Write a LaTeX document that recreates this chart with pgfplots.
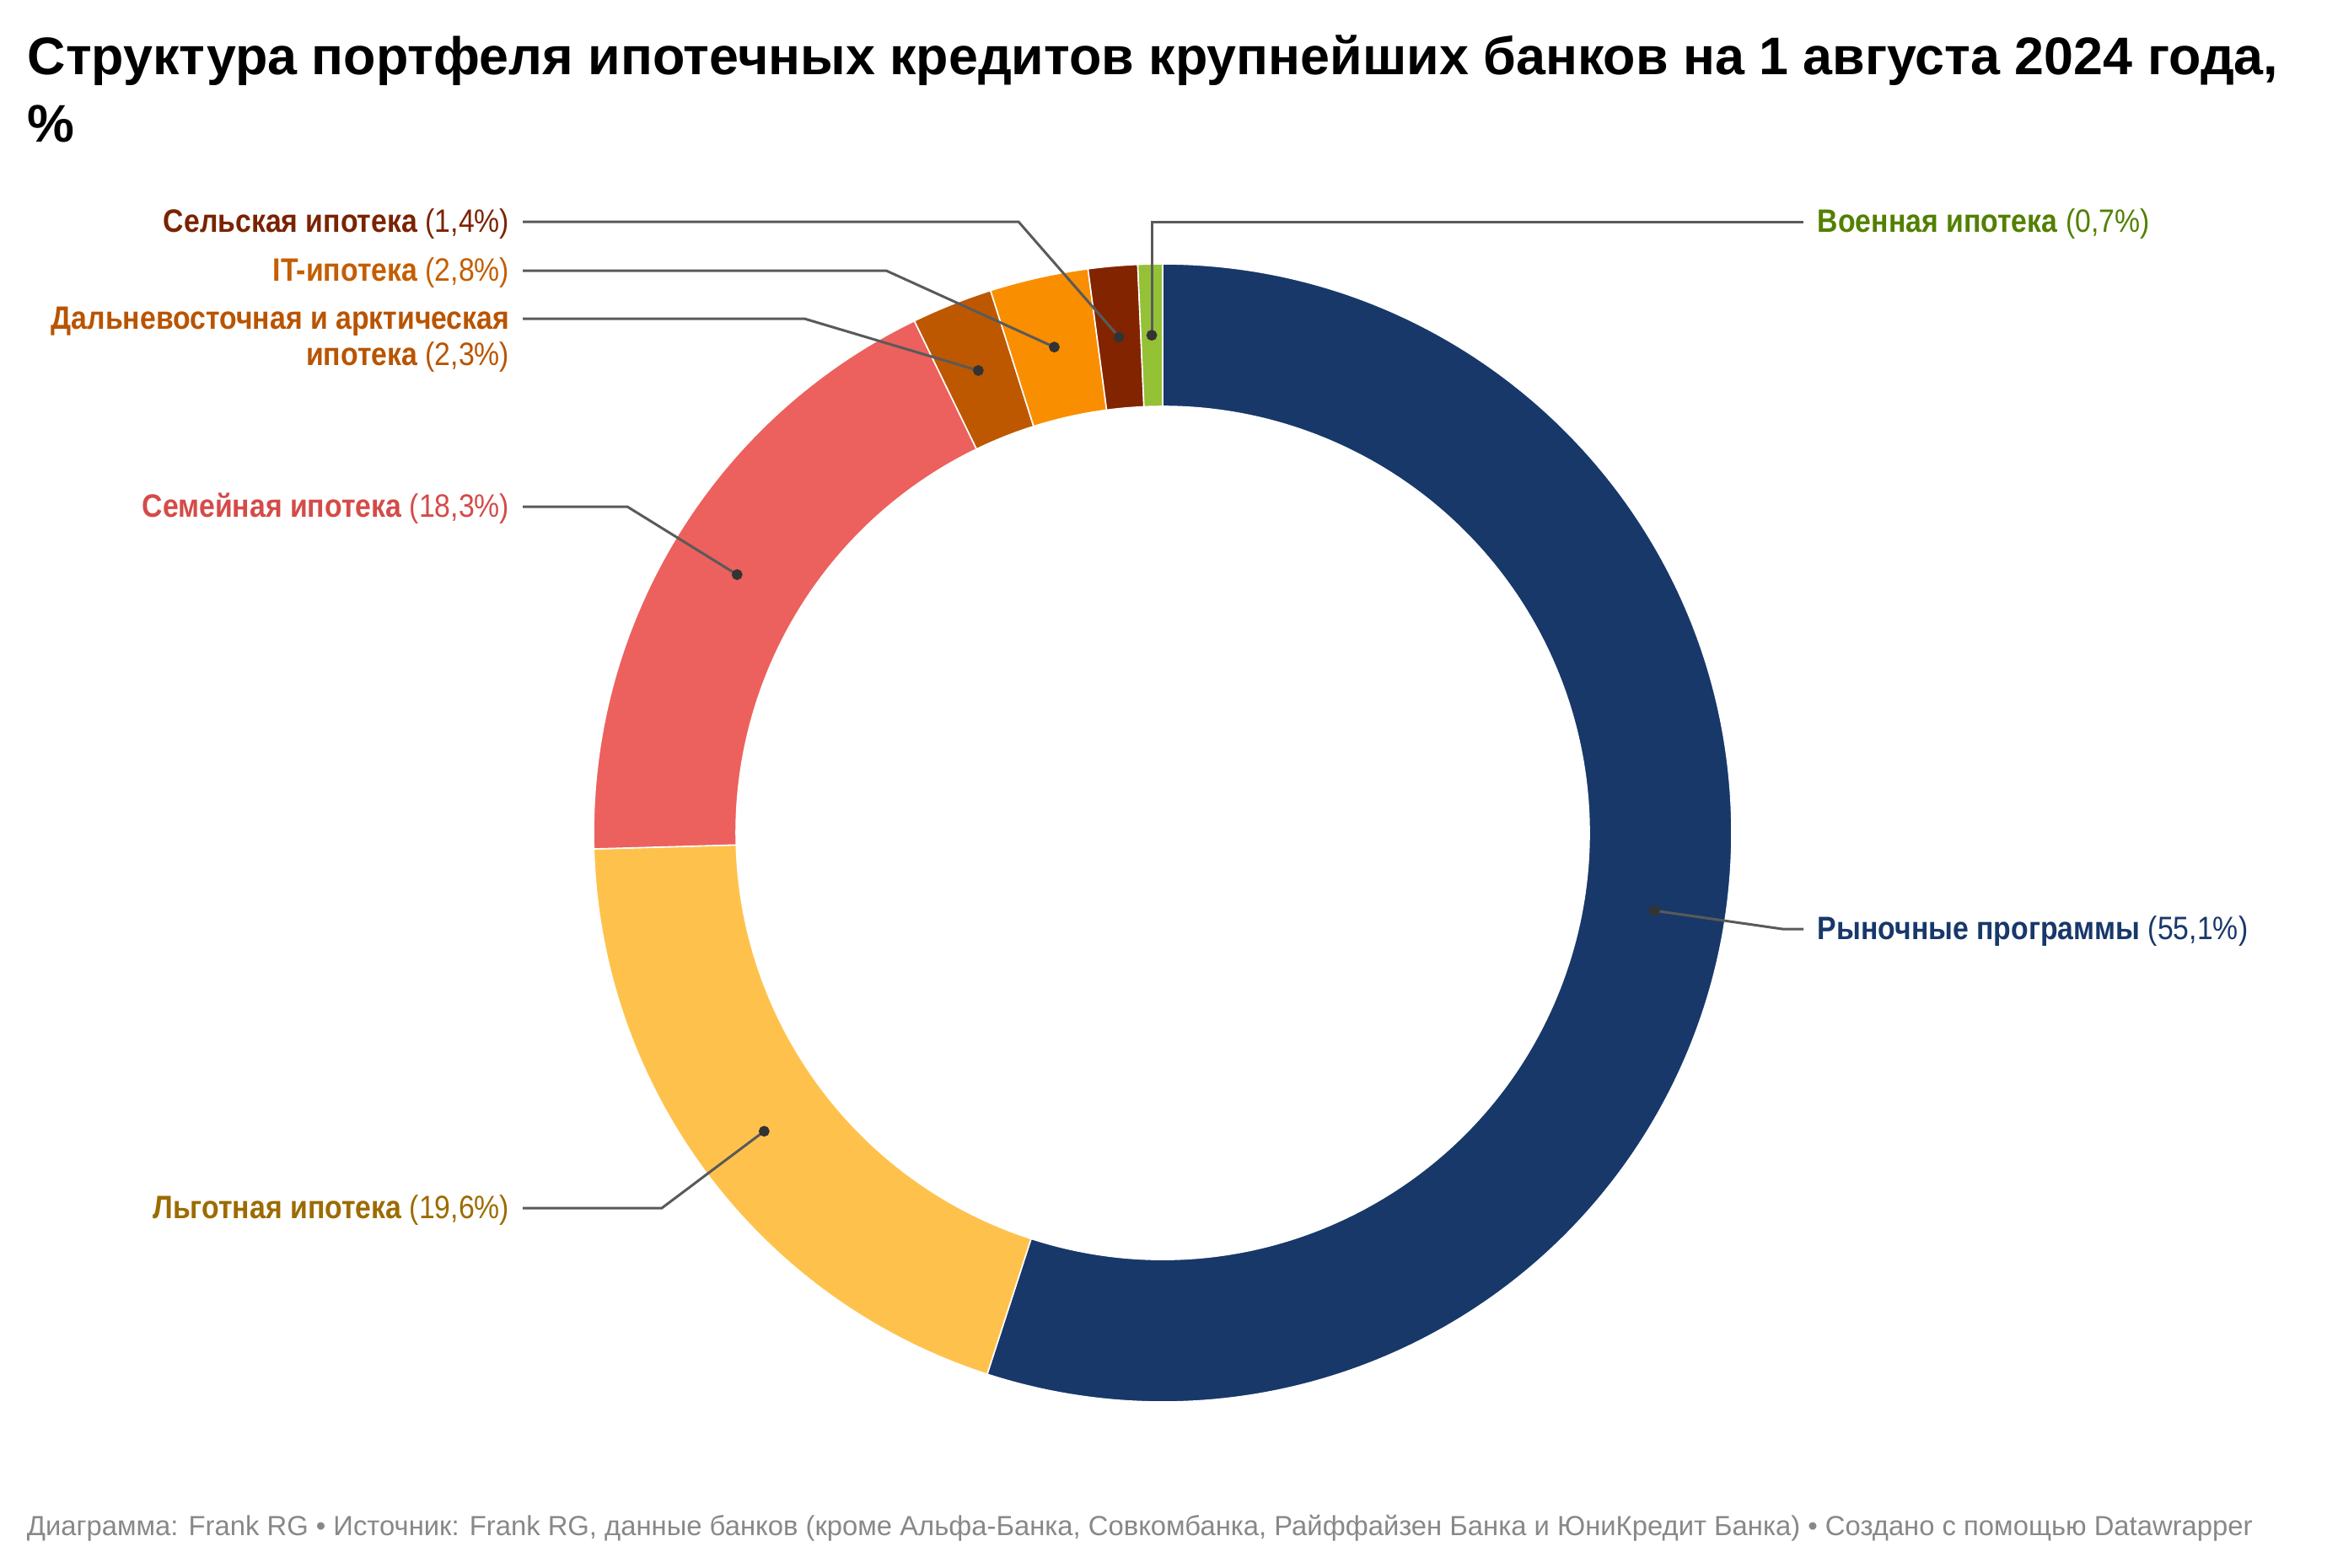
\documentclass[border=0pt]{standalone}
\usepackage{pgfplots}
\pgfplotsset{compat=1.18}
\usepackage{pgfplotstable}
\usepackage{fontspec}
\setmainfont{Liberation Sans}
\newfontfamily\labf[FakeStretch=0.88]{Liberation Sans}

% slice colours
\definecolor{cA}{HTML}{18386A}
\definecolor{cB}{HTML}{FEC24C}
\definecolor{cC}{HTML}{EC615D}
\definecolor{cD}{HTML}{BD5800}
\definecolor{cE}{HTML}{F98E00}
\definecolor{cF}{HTML}{832400}
\definecolor{cG}{HTML}{95C136}
% label colours
\definecolor{lA}{HTML}{18386A}
\definecolor{lB}{HTML}{9C6B00}
\definecolor{lC}{HTML}{D44B48}
\definecolor{lD}{HTML}{B95400}
\definecolor{lE}{HTML}{C45E00}
\definecolor{lF}{HTML}{7A2300}
\definecolor{lG}{HTML}{528000}
\definecolor{leader}{HTML}{5A5A5A}
\definecolor{dotc}{HTML}{333333}
\definecolor{foot}{HTML}{888888}

% share of each mortgage programme, %
\pgfplotstableread{
value
55.1
19.6
18.3
2.3
2.8
1.4
0.7
}\mortgage

\newcommand\labfont{\labf\fontsize{9.6}{11}\selectfont}

\begin{document}
\begin{tikzpicture}
% total
\xdef\total{0}
\foreach \i in {0,...,6}{%
  \pgfplotstablegetelem{\i}{value}\of\mortgage
  \pgfmathsetmacro\newtot{\total+\pgfplotsretval}%
  \xdef\total{\newtot}%
}
\pgfmathsetmacro\fac{360/\total}
\xdef\fac{\fac}
% geometry of each slice (centre 1379,988; R=675, r=506)
\xdef\cum{0}
\xdef\dotcoords{}
\foreach \i in {0,...,6}{%
  \pgfplotstablegetelem{\i}{value}\of\mortgage
  \let\val\pgfplotsretval
  \edef\L{\ifcase\i A\or B\or C\or D\or E\or F\or G\fi}%
  \pgfmathsetmacro\aS{90-\fac*\cum}%
  \pgfmathsetmacro\aE{90-\fac*(\cum+\val)}%
  \pgfmathsetmacro\aM{(\aS+\aE)/2}%
  \pgfmathsetmacro\ox{1379+675*cos(\aS)}%
  \pgfmathsetmacro\oy{988-675*sin(\aS)}%
  \pgfmathsetmacro\ix{1379+506*cos(\aE)}%
  \pgfmathsetmacro\iy{988-506*sin(\aE)}%
  \pgfmathsetmacro\mx{1379+590.5*cos(\aM)}%
  \pgfmathsetmacro\my{988-590.5*sin(\aM)}%
  \expandafter\xdef\csname aS\L\endcsname{\aS}%
  \expandafter\xdef\csname aE\L\endcsname{\aE}%
  \expandafter\xdef\csname ox\L\endcsname{\ox}%
  \expandafter\xdef\csname oy\L\endcsname{\oy}%
  \expandafter\xdef\csname ix\L\endcsname{\ix}%
  \expandafter\xdef\csname iy\L\endcsname{\iy}%
  \expandafter\xdef\csname mx\L\endcsname{\mx}%
  \expandafter\xdef\csname my\L\endcsname{\my}%
  \xdef\dotcoords{\dotcoords (\mx,\my)}%
  \pgfmathsetmacro\newcum{\cum+\val}%
  \xdef\cum{\newcum}%
}
\begin{axis}[
  width=690pt, height=465pt, scale only axis,
  xmin=0, xmax=2760, ymin=0, ymax=1860, y dir=reverse,
  hide axis, clip=false,
]
\path (axis cs:0,0) rectangle (axis cs:2760,1860);

% donut slices
\pgfplotsinvokeforeach{A,B,C,D,E,F,G}{%
  \edef\doslice{\noexpand\fill[c#1, draw=white, line width=0.4pt]
    (axis cs:\csname ox#1\endcsname,\csname oy#1\endcsname)
    arc[start angle=\csname aS#1\endcsname, end angle=\csname aE#1\endcsname, radius=168.75pt]
    -- (axis cs:\csname ix#1\endcsname,\csname iy#1\endcsname)
    arc[start angle=\csname aE#1\endcsname, end angle=\csname aS#1\endcsname, radius=126.5pt]
    -- cycle;}%
  \doslice
}

% leader lines
\draw[leader, line width=0.75pt] (axis cs:620,263) -- (axis cs:1208,263) -- (axis cs:\mxF,\myF);
\draw[leader, line width=0.75pt] (axis cs:620,321) -- (axis cs:1051,321) -- (axis cs:\mxE,\myE);
\draw[leader, line width=0.75pt] (axis cs:620,378) -- (axis cs:954,378) -- (axis cs:\mxD,\myD);
\draw[leader, line width=0.75pt] (axis cs:620,601) -- (axis cs:744,601) -- (axis cs:\mxC,\myC);
\draw[leader, line width=0.75pt] (axis cs:620,1433) -- (axis cs:785,1433) -- (axis cs:\mxB,\myB);
\draw[leader, line width=0.75pt] (axis cs:\mxA,\myA) -- (axis cs:2114,1102) -- (axis cs:2139,1102);
\draw[leader, line width=0.75pt] (axis cs:\mxG,\myG) -- (axis cs:\mxG,263) -- (axis cs:2139,263);

% dots at slice middles
\edef\dodots{\noexpand\addplot[only marks, mark=*, mark size=1.4pt, color=dotc] coordinates {\dotcoords};}
\dodots

% labels
\node[anchor=base east, inner sep=0, font=\labfont, color=lF] at (axis cs:605,275) {\textbf{Сельская ипотека} (1,4\%)};
\node[anchor=base east, inner sep=0, font=\labfont, color=lE] at (axis cs:605,333) {\textbf{IT-ипотека} (2,8\%)};
\node[anchor=base east, inner sep=0, font=\labfont, color=lD] at (axis cs:605,390) {\textbf{Дальневосточная и арктическая}};
\node[anchor=base east, inner sep=0, font=\labfont, color=lD] at (axis cs:605,433) {\textbf{ипотека} (2,3\%)};
\node[anchor=base east, inner sep=0, font=\labfont, color=lC] at (axis cs:605,613) {\textbf{Семейная ипотека} (18,3\%)};
\node[anchor=base east, inner sep=0, font=\labfont, color=lB] at (axis cs:605,1445) {\textbf{Льготная ипотека} (19,6\%)};
\node[anchor=base west, inner sep=0, font=\labfont, color=lA] at (axis cs:2155,1114) {\textbf{Рыночные программы} (55,1\%)};
\node[anchor=base west, inner sep=0, font=\labfont, color=lG] at (axis cs:2155,275) {\textbf{Военная ипотека} (0,7\%)};

% title
\node[anchor=base west, inner sep=0, font=\fontsize{15.7}{18}\selectfont\bfseries] at (axis cs:32,88) {Структура портфеля ипотечных кредитов крупнейших банков на 1 августа 2024 года,};
\node[anchor=base west, inner sep=0, font=\fontsize{15.7}{18}\selectfont\bfseries] at (axis cs:32,168) {\%};

% footer
\node[anchor=base west, inner sep=0, font=\fontsize{8.2}{10}\selectfont, color=foot] at (axis cs:31,1821) {Диаграмма: Frank RG • Источник: Frank RG, данные банков (кроме Альфа-Банка, Совкомбанка, Райффайзен Банка и ЮниКредит Банка) • Создано с помощью Datawrapper};
\end{axis}
\end{tikzpicture}
\end{document}
